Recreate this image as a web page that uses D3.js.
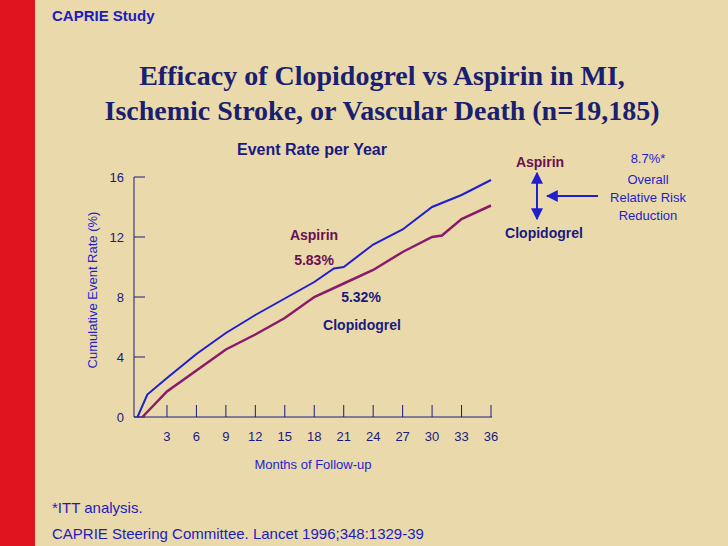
<!DOCTYPE html><html><head><meta charset="utf-8">
<script src="https://cdn.jsdelivr.net/npm/d3@7"></script>
<style>body{margin:0}svg{display:block}</style></head><body><svg id="c" width="728" height="546"></svg>
<script>
const months = [0,1,3,6,9,12,15,18,20,21,24,27,30,33,36];
const aspirin = [0,1.5,2.6,4.2,5.6,6.8,7.9,9.0,9.9,10.0,11.5,12.5,14.0,14.8,15.8];
const clopMonths = [0.5,3,6,9,12,15,18,21,24,27,30,31,33,36];
const clopidogrel = [0,1.7,3.1,4.5,5.5,6.6,8.0,8.9,9.8,11.0,12.0,12.1,13.2,14.1];
const xTicks = [3,6,9,12,15,18,21,24,27,30,33,36];
const yTicks = [0,4,8,12,16];

const svg = d3.select("#c");
const navy = "#1a1a80", blue = "#1f1fd0", purple = "#8a1a6a", plum="#6a1050";
svg.append("rect").attr("width",728).attr("height",546).attr("fill","#ead9ab");
svg.append("rect").attr("width",35).attr("height",546).attr("fill","#e0141e");

const x = d3.scaleLinear().domain([0,36]).range([137.5,491]);
const y = d3.scaleLinear().domain([0,16]).range([417,177]);
const g = svg.append("g");
g.append("line").attr("x1",134).attr("x2",134).attr("y1",177).attr("y2",417).attr("stroke",navy);
g.append("line").attr("x1",134).attr("x2",492).attr("y1",417).attr("y2",417).attr("stroke",navy);
yTicks.forEach(t=>{
  g.append("line").attr("x1",134).attr("x2",145).attr("y1",y(t)).attr("y2",y(t)).attr("stroke",navy);
  g.append("text").attr("x",124).attr("y",y(t)+5).attr("text-anchor","end").attr("font-family","Arial").attr("font-size",13).attr("fill",navy).text(t);
});
xTicks.forEach(t=>{
  g.append("line").attr("x1",x(t)).attr("x2",x(t)).attr("y1",405).attr("y2",417).attr("stroke",navy);
  g.append("text").attr("x",x(t)).attr("y",441).attr("text-anchor","middle").attr("font-family","Arial").attr("font-size",13).attr("fill",navy).text(t);
});
const line = d3.line().x(d=>x(d[0])).y(d=>y(d[1]));
g.append("path").attr("d",line(clopMonths.map((m,i)=>[m,clopidogrel[i]]))).attr("fill","none").attr("stroke",purple).attr("stroke-width",2.5);
g.append("path").attr("d",line(months.map((m,i)=>[m,aspirin[i]]))).attr("fill","none").attr("stroke",blue).attr("stroke-width",2);

function t(xp,yp,s,o){const e=svg.append("text").attr("x",xp).attr("y",yp).text(s)
 .attr("font-family",o.f||"Arial").attr("font-size",o.s||13).attr("fill",o.c||navy)
 .attr("font-weight",o.w||"normal").attr("text-anchor",o.a||"start");return e;}
t(52,21,"CAPRIE Study",{s:15,w:"bold",c:"#1c1cc0"});
t(382,85,"Efficacy of Clopidogrel vs Aspirin in MI,",{f:"Liberation Serif",s:28,w:"bold",a:"middle",c:"#1a2070"});
t(382,120,"Ischemic Stroke, or Vascular Death (n=19,185)",{f:"Liberation Serif",s:28,w:"bold",a:"middle",c:"#1a2070"});
t(312,155,"Event Rate per Year",{s:16,w:"bold",a:"middle"});
svg.append("text").attr("transform","translate(97,290) rotate(-90)").attr("text-anchor","middle")
  .attr("font-family","Arial").attr("font-size",13).attr("fill",blue).text("Cumulative Event Rate (%)");
t(313,469,"Months of Follow-up",{s:13,a:"middle",c:blue});
t(314,240,"Aspirin",{s:14,w:"bold",a:"middle",c:plum});
t(314,265,"5.83%",{s:14,w:"bold",a:"middle",c:plum});
t(361,302,"5.32%",{s:14,w:"bold",a:"middle"});
t(362,330,"Clopidogrel",{s:14,w:"bold",a:"middle"});
t(540,167,"Aspirin",{s:14,w:"bold",a:"middle",c:plum});
t(544,238,"Clopidogrel",{s:14,w:"bold",a:"middle"});
t(648,163,"8.7%*",{s:13,a:"middle",c:blue});
t(648,184,"Overall",{s:13,a:"middle",c:blue});
t(648,202,"Relative Risk",{s:13,a:"middle",c:blue});
t(648,220,"Reduction",{s:13,a:"middle",c:blue});
const defs=svg.append("defs");
defs.append("marker").attr("id","ah").attr("viewBox","0 0 10 10").attr("refX",9).attr("refY",5).attr("markerWidth",6).attr("markerHeight",6).attr("orient","auto-start-reverse")
 .append("path").attr("d","M0,0L10,5L0,10z").attr("fill",blue);
svg.append("line").attr("x1",537).attr("x2",537).attr("y1",173).attr("y2",219).attr("stroke",blue).attr("stroke-width",2).attr("marker-start","url(#ah)").attr("marker-end","url(#ah)");
svg.append("line").attr("x1",598).attr("x2",547).attr("y1",196).attr("y2",196).attr("stroke",blue).attr("stroke-width",2).attr("marker-end","url(#ah)");
t(52,513,"*ITT analysis.",{s:15,c:"#1c1cc0"});
t(52,539,"CAPRIE Steering Committee. Lancet 1996;348:1329-39",{s:15,c:"#1c1cc0"});
</script></body></html>
